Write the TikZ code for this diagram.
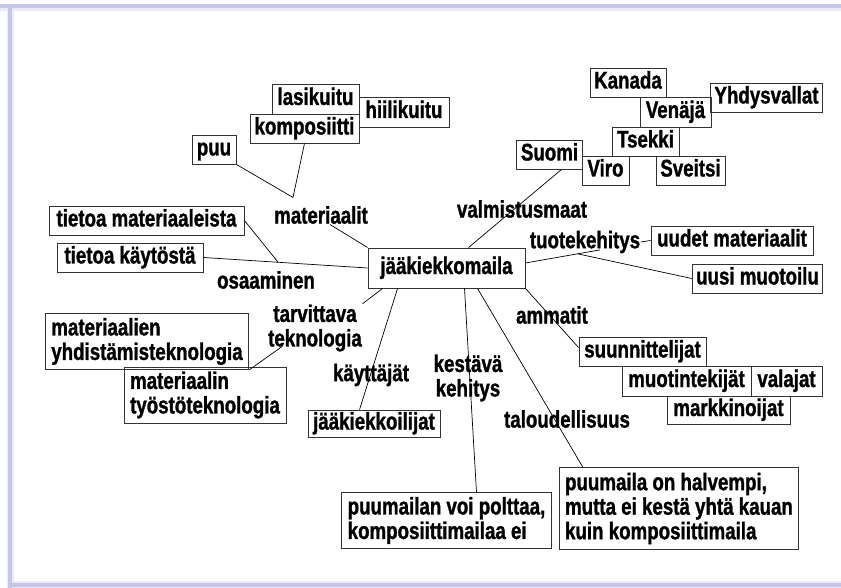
\documentclass[tikz,border=0pt]{standalone}
\usepackage{fontspec}
\setmainfont{Liberation Sans}[FakeStretch=0.78,FakeBold=1.2]
\usetikzlibrary{calc}

\definecolor{framelav}{RGB}{198,198,232}
\definecolor{framelight}{RGB}{234,234,246}

\tikzset{
  box/.style={draw=black!80, line width=0.9pt, inner xsep=4pt, inner ysep=0pt,
    minimum height=29pt, text height=17pt, text depth=5pt},
  mbox/.style={draw=black!80, line width=0.9pt, inner xsep=6pt, inner ysep=4.5pt, align=left},
  lbl/.style={inner sep=0.5pt, align=center},
  con/.style={line width=0.7pt}
}

\begin{document}
\begin{tikzpicture}[x=1pt,y=-1pt,font=\fontsize{24}{24.5}\selectfont\bfseries]
\useasboundingbox (0,0) rectangle (841,588);
% frame
\fill[framelight] (0,4) rectangle (841,11);
\fill[framelight] (7,4) rectangle (14,588);
\fill[framelight] (7,581) rectangle (841,588);
\fill[framelav] (0,4) rectangle (841,8);
\fill[framelav] (8,4) rectangle (12,588);
\fill[framelav] (8,583) rectangle (841,587);

% centre
\node[box, minimum width=157pt, minimum height=40pt] (maila) at (446.5,268) {jääkiekkomaila};

% materiaalit
\node[lbl] (mat) at (321,215) {materiaalit};
\node[box, minimum width=44pt] (puu) at (214,149.5) {puu};
\node[box, minimum width=87pt, minimum height=30pt] (lasi) at (315.5,99) {lasikuitu};
\node[box, minimum width=90pt, minimum height=30pt] (hiili) at (404,112) {hiilikuitu};
\node[box, minimum width=109pt] (komp) at (304.5,128.5) {komposiitti};
\coordinate (matj) at ($(mat.north)+(-28,-8)$);

% osaaminen
\node[lbl] (osa) at (266,280) {osaaminen};
\node[box, minimum width=195pt] (tmat) at (146.5,220.5) {tietoa materiaaleista};
\node[box, minimum width=146pt] (tkay) at (130,257.5) {tietoa käytöstä};

% tarvittava teknologia
\node[lbl] (tarv) at (315,328) {tarvittava\\teknologia};
\node[mbox, minimum width=194pt] (myt) at (147,341.5) {materiaalien\\yhdistämisteknologia};
\node[mbox, minimum width=162pt] (mtt) at (205,395) {materiaalin\\työstöteknologia};

% käyttäjät
\node[lbl] (kay) at (371,375) {käyttäjät};
\node[box, minimum width=132pt, minimum height=27pt] (jk) at (374,423.5) {jääkiekkoilijat};

% kestävä kehitys
\node[lbl] (kest) at (468,378) {kestävä\\kehitys};
\node[mbox, minimum width=203pt] (polt) at (446.5,520.5) {puumailan voi polttaa,\\komposiittimailaa ei};

% taloudellisuus
\node[lbl] (talo) at (567,419) {taloudellisuus};
\node[mbox, minimum width=236pt, inner ysep=5.5pt] (halv) at (679,508.5) {puumaila on halvempi,\\mutta ei kestä yhtä kauan\\kuin komposiittimaila};

% ammatit
\node[lbl] (amm) at (552,315) {ammatit};
\node[box, minimum width=127pt] (suun) at (642.5,351.5) {suunnittelijat};
\node[box, minimum width=129pt, minimum height=30pt] (muot) at (686.5,381) {muotintekijät};
\node[box, minimum width=71pt, minimum height=30pt] (vala) at (786.5,381) {valajat};
\node[box, minimum width=123pt, minimum height=28pt] (mark) at (728.5,410) {markkinoijat};

% tuotekehitys
\node[lbl] (tuote) at (585,242) {tuotekehitys};
\node[box, minimum width=162pt] (uudet) at (732,240.5) {uudet materiaalit};
\node[box, minimum width=129pt] (muoto) at (757.5,278.5) {uusi muotoilu};

% valmistusmaat
\node[lbl] (valm) at (522,209) {valmistusmaat};
\node[box, minimum width=65pt] (suomi) at (549.5,154.5) {Suomi};
\node[box, minimum width=47pt] (viro) at (605.5,170.5) {Viro};
\node[box, minimum width=67pt] (tsekki) at (645.5,141.5) {Tsekki};
\node[box, minimum width=69pt] (sveitsi) at (690.5,170.5) {Sveitsi};
\node[box, minimum width=71pt, minimum height=30pt] (venaja) at (675.5,112) {Venäjä};
\node[box, minimum width=76pt] (kanada) at (628,82.5) {Kanada};
\node[box, minimum width=111pt] (usa) at (766.5,97.5) {Yhdysvallat};

% connectors
\draw[con] (puu.south east) -- (matj);
\draw[con] (komp.south) -- (matj);
\draw[con] ($(mat.south)+(9,0)$) -- (maila.north west);
\draw[con] (tkay.east) -- coordinate[pos=0.455] (osaj) (maila.west);
\draw[con] (tmat.east) -- (osaj);
\draw[con] ($(maila.south west)+(15,0)$) -- (tarv.north east);
\draw[con] ($(tarv.south west)+(15,-6)$) -- (myt.south east);
\draw[con] ($(maila.south west)+(30,0)$) -- ($(jk.north west)+(52,0)$);
\draw[con] ($(maila.south)+(18,0)$) -- ($(polt.north)+(30,0)$);
\draw[con] ($(maila.south)+(31,0)$) -- ($(halv.north west)+(24,0)$);
\draw[con] (maila.south east) -- ($(suun.west)+(0,-4)$);
\draw[con] ($(maila.east)+(0,-5)$) -- coordinate[pos=0.7] (tuotej) ($(tuote.south)+(15,-4)$);
\draw[con] (muoto.west) -- (tuotej);
\draw[con] (tuote.east) -- (uudet.west);
\draw[con] ($(maila.north)+(22,0)$) -- ($(suomi.south)+(12,0)$);
\end{tikzpicture}
\end{document}
